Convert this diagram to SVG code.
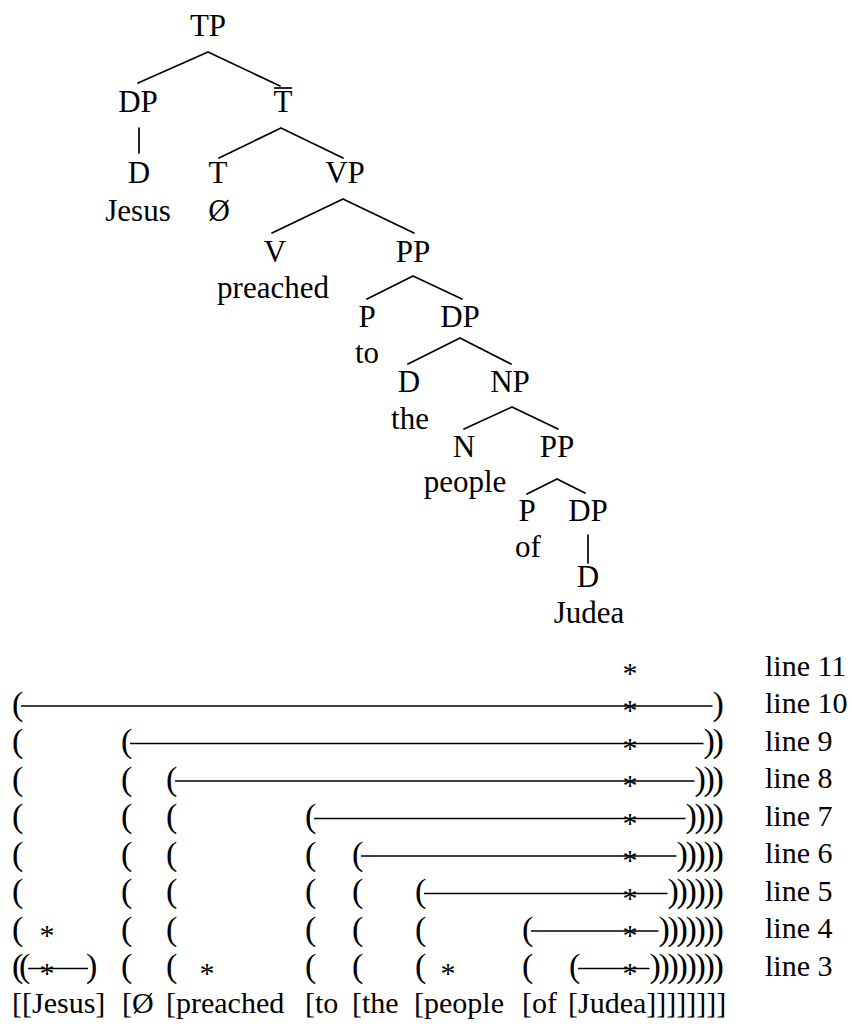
<svg xmlns="http://www.w3.org/2000/svg" width="852" height="1024" viewBox="0 0 852 1024">
<rect width="852" height="1024" fill="#fff"/>
<g id="connectors" stroke="#000" stroke-width="1.7" fill="none" stroke-linecap="round">
<path d="M208,52 L138,83 M208,52 L280,86"/>
<path d="M281,128 L219,158 M281,128 L343,158"/>
<path d="M139,128 L139,153"/>
<path d="M343,199 L272,233 M343,199 L414,233"/>
<path d="M413,276 L367,299 M413,276 L462,299"/>
<path d="M460,338 L408,364 M460,338 L511,364"/>
<path d="M512,407 L464,429 M512,407 L558,429"/>
<path d="M557,479 L527,494 M557,479 L585,493"/>
<path d="M588,535 L588,563"/>
</g>
<g id="tree" text-anchor="middle" fill="#000" font-family="Liberation Serif, Tinos, serif" font-size="31">
<g id="n-TP"><text x="208" y="36">TP</text></g>
<g id="n-DP1"><text x="138" y="112">DP</text></g>
<g id="n-Tbar"><text x="283" y="112">T</text><line x1="274" y1="88" x2="292" y2="88" stroke="#000" stroke-width="1.7"/></g>
<g id="n-D1"><text x="139" y="183">D</text><text x="138" y="221">Jesus</text></g>
<g id="n-T"><text x="218" y="183">T</text><text x="219" y="221" font-family="DejaVu Serif, serif" font-size="27">Ø</text></g>
<g id="n-VP"><text x="345" y="183">VP</text></g>
<g id="n-V"><text x="275" y="262">V</text><text x="273" y="298">preached</text></g>
<g id="n-PP1"><text x="413" y="262">PP</text></g>
<g id="n-P1"><text x="367" y="327">P</text><text x="367" y="363">to</text></g>
<g id="n-DP2"><text x="460" y="327">DP</text></g>
<g id="n-D2"><text x="409" y="392">D</text><text x="410" y="429">the</text></g>
<g id="n-NP"><text x="510" y="392">NP</text></g>
<g id="n-N"><text x="464" y="457">N</text><text x="465" y="492">people</text></g>
<g id="n-PP2"><text x="557" y="457">PP</text></g>
<g id="n-P2"><text x="527" y="521">P</text><text x="528" y="557">of</text></g>
<g id="n-DP3"><text x="588" y="521">DP</text></g>
<g id="n-D3"><text x="588" y="587">D</text><text x="589" y="623">Judea</text></g>
</g>

<g id="grid" fill="#000" font-family="Liberation Serif, Tinos, serif">
<g id="rules" stroke="#000" stroke-width="1.3">
<line x1="21" y1="706" x2="712.5" y2="706"/>
<line x1="130" y1="743.5" x2="703.5" y2="743.5"/>
<line x1="175" y1="781" x2="694.5" y2="781"/>
<line x1="314" y1="818.5" x2="685.5" y2="818.5"/>
<line x1="361" y1="856" x2="676.5" y2="856"/>
<line x1="424" y1="893.5" x2="667.5" y2="893.5"/>
<line x1="531" y1="931" x2="658.5" y2="931"/>
<line x1="28" y1="968.5" x2="88" y2="968.5"/>
<line x1="578" y1="968.5" x2="649.5" y2="968.5"/>
</g>
<g id="stars" text-anchor="middle" font-size="30">
<text x="630" y="682.5">*</text>
<text x="630" y="720">*</text>
<text x="630" y="757.5">*</text>
<text x="630" y="795">*</text>
<text x="630" y="832.5">*</text>
<text x="630" y="870">*</text>
<text x="630" y="907.5">*</text>
<text x="47" y="945">*</text>
<text x="630" y="945">*</text>
<text x="47" y="982.5">*</text>
<text x="207" y="982.5">*</text>
<text x="448" y="982.5">*</text>
<text x="630" y="982.5">*</text>
</g>
<g id="labels" font-size="30">
<text x="765" y="675.5">line 11</text>
<text x="765" y="713">line 10</text>
<text x="765" y="750.5">line 9</text>
<text x="765" y="788">line 8</text>
<text x="765" y="825.5">line 7</text>
<text x="765" y="863">line 6</text>
<text x="765" y="900.5">line 5</text>
<text x="765" y="938">line 4</text>
<text x="765" y="975.5">line 3</text>
</g>
<g id="parens" font-size="34">
<g id="row10">
<text x="12" y="714.5">(</text>
<text x="712.5" y="714.5">)</text>
</g>
<g id="row9">
<text x="12" y="752">(</text>
<text x="121" y="752">(</text>
<text x="703.5" y="752">)</text><text x="712.5" y="752">)</text>
</g>
<g id="row8">
<text x="12" y="789.5">(</text>
<text x="121" y="789.5">(</text>
<text x="166" y="789.5">(</text>
<text x="694.5" y="789.5">)</text><text x="703.5" y="789.5">)</text><text x="712.5" y="789.5">)</text>
</g>
<g id="row7">
<text x="12" y="827">(</text>
<text x="121" y="827">(</text>
<text x="166" y="827">(</text>
<text x="305" y="827">(</text>
<text x="685.5" y="827">)</text><text x="694.5" y="827">)</text><text x="703.5" y="827">)</text><text x="712.5" y="827">)</text>
</g>
<g id="row6">
<text x="12" y="864.5">(</text>
<text x="121" y="864.5">(</text>
<text x="166" y="864.5">(</text>
<text x="305" y="864.5">(</text>
<text x="352" y="864.5">(</text>
<text x="676.5" y="864.5">)</text><text x="685.5" y="864.5">)</text><text x="694.5" y="864.5">)</text><text x="703.5" y="864.5">)</text><text x="712.5" y="864.5">)</text>
</g>
<g id="row5">
<text x="12" y="902">(</text>
<text x="121" y="902">(</text>
<text x="166" y="902">(</text>
<text x="305" y="902">(</text>
<text x="352" y="902">(</text>
<text x="415" y="902">(</text>
<text x="667.5" y="902">)</text><text x="676.5" y="902">)</text><text x="685.5" y="902">)</text><text x="694.5" y="902">)</text><text x="703.5" y="902">)</text><text x="712.5" y="902">)</text>
</g>
<g id="row4">
<text x="12" y="939.5">(</text>
<text x="121" y="939.5">(</text>
<text x="166" y="939.5">(</text>
<text x="305" y="939.5">(</text>
<text x="352" y="939.5">(</text>
<text x="415" y="939.5">(</text>
<text x="522" y="939.5">(</text>
<text x="658.5" y="939.5">)</text><text x="667.5" y="939.5">)</text><text x="676.5" y="939.5">)</text><text x="685.5" y="939.5">)</text><text x="694.5" y="939.5">)</text><text x="703.5" y="939.5">)</text><text x="712.5" y="939.5">)</text>
</g>
<g id="row3">
<text x="12" y="977">(</text>
<text x="19" y="977">(</text>
<text x="86" y="977">)</text>
<text x="121" y="977">(</text>
<text x="166" y="977">(</text>
<text x="305" y="977">(</text>
<text x="352" y="977">(</text>
<text x="415" y="977">(</text>
<text x="522" y="977">(</text>
<text x="569" y="977">(</text>
<text x="649.5" y="977">)</text><text x="658.5" y="977">)</text><text x="667.5" y="977">)</text><text x="676.5" y="977">)</text><text x="685.5" y="977">)</text><text x="694.5" y="977">)</text><text x="703.5" y="977">)</text><text x="712.5" y="977">)</text>
</g>
</g>
<g id="row-bottom" font-size="30">
<text x="12" y="1013">[[Jesus]</text>
<text x="122" y="1013">[Ø</text>
<text x="166" y="1013">[preached</text>
<text x="305" y="1013">[to</text>
<text x="352" y="1013">[the</text>
<text x="414" y="1013">[people</text>
<text x="522" y="1013">[of</text>
<text x="568" y="1013">[Judea]]]]]]]]</text>
</g>
</g>
</svg>
